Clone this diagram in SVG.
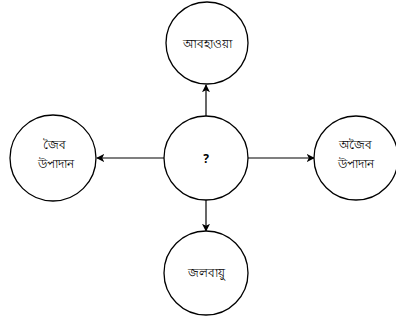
<svg xmlns="http://www.w3.org/2000/svg" width="396" height="320" viewBox="0 0 396 320">
<style>
.n{fill:#fff;stroke:#000;stroke-width:1.3}
.t{font-family:"Noto Sans","DejaVu Sans",sans-serif;font-size:12px;fill:#000;text-anchor:middle}
.c{stroke:#000;stroke-width:1.2;fill:none;marker-end:url(#a)}
</style>
<defs>
<marker id="a" viewBox="0 0 10 10" refX="9" refY="5" markerWidth="8" markerHeight="8" markerUnits="userSpaceOnUse" orient="auto">
<path d="M0,0 L10,5 L0,10 L2.5,5 Z" fill="#000"/>
</marker>
</defs>
<rect width="396" height="320" fill="#fff"/>
<g id="connectors">
<line class="c" x1="206" y1="116" x2="206" y2="85"/>
<line class="c" x1="164" y1="158" x2="97" y2="158"/>
<line class="c" x1="248" y1="158" x2="314" y2="158"/>
<line class="c" x1="206" y1="200" x2="206" y2="231"/>
</g>
<g id="center"><circle class="n" cx="206" cy="158" r="42"/><text class="t" x="206" y="163" font-weight="bold">?</text></g>
<g id="top"><circle class="n" cx="207" cy="43" r="41"/><text class="t" x="207" y="48">আবহাওয়া</text></g>
<g id="left"><circle class="n" cx="53" cy="158" r="43"/><text class="t" x="54" y="149">জৈব</text><text class="t" x="56" y="168">উপাদান</text></g>
<g id="right"><circle class="n" cx="356" cy="158" r="42"/><text class="t" x="355" y="149">অজৈব</text><text class="t" x="356" y="168">উপাদান</text></g>
<g id="bottom"><circle class="n" cx="206" cy="273" r="42"/><text class="t" x="206" y="277">জলবায়ু</text></g>
</svg>
